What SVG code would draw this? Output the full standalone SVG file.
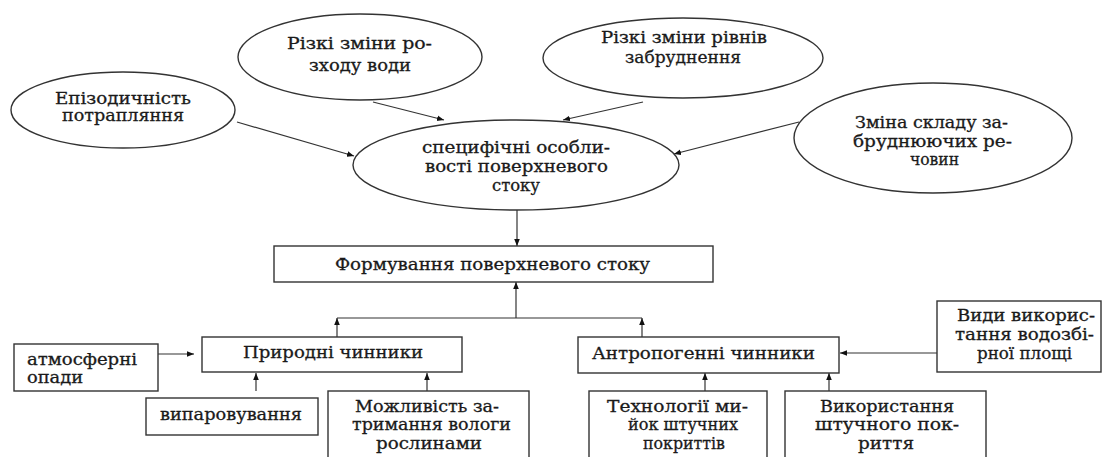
<svg xmlns="http://www.w3.org/2000/svg" width="1104" height="457" viewBox="0 0 1104 457">
<style>
.n{fill:#fff;stroke:#333;stroke-width:1.4}
text{font-family:'DejaVu Serif','Liberation Serif',serif;font-size:16px;fill:#1a1a1a;stroke:#1a1a1a;stroke-width:0.3}
.c{stroke:#333;stroke-width:1.2;fill:none;marker-end:url(#a)}
.l{stroke:#333;stroke-width:1.2;fill:none}
</style>
<defs>
<marker id="a" viewBox="0 0 10 10" refX="10" refY="5" markerWidth="7" markerHeight="7" markerUnits="userSpaceOnUse" orient="auto">
<path d="M0,1 L10,5 L0,9 z" fill="#111"/>
</marker>
</defs>
<rect width="1104" height="457" fill="#fff"/>
<g id="connectors">
<line class="c" x1="237" y1="122" x2="354" y2="156"/>
<line class="c" x1="373" y1="102" x2="444" y2="120"/>
<line class="c" x1="643" y1="102" x2="563" y2="120"/>
<line class="c" x1="799" y1="122" x2="674" y2="154"/>
<line class="c" x1="517" y1="210" x2="517" y2="246"/>
<line class="c" x1="516" y1="318" x2="516" y2="282"/>
<line class="l" x1="337" y1="318" x2="642" y2="318"/>
<line class="c" x1="337" y1="337" x2="337" y2="318"/>
<line class="c" x1="642" y1="337" x2="642" y2="318"/>
<line class="c" x1="158" y1="354" x2="194" y2="354"/>
<line class="c" x1="256" y1="391" x2="256" y2="373"/>
<line class="c" x1="427" y1="391" x2="427" y2="373"/>
<line class="c" x1="705" y1="391" x2="705" y2="373"/>
<line class="c" x1="829" y1="391" x2="829" y2="373"/>
<line class="c" x1="937" y1="353" x2="840" y2="353"/>
</g>
<g id="epizod">
<ellipse class="n" cx="123" cy="110" rx="112" ry="38"/>
<text x="55" y="104" textLength="136" lengthAdjust="spacingAndGlyphs">Епізодичність</text>
<text x="62" y="121" textLength="122" lengthAdjust="spacingAndGlyphs">потрапляння</text>
</g>
<g id="rozkhid">
<ellipse class="n" cx="360" cy="57" rx="122" ry="43"/>
<text x="287" y="49" textLength="145" lengthAdjust="spacingAndGlyphs">Різкі зміни ро-</text>
<text x="309" y="71" textLength="102" lengthAdjust="spacingAndGlyphs">зходу води</text>
</g>
<g id="rivni">
<ellipse class="n" cx="683" cy="58" rx="140" ry="40"/>
<text x="601" y="43" textLength="166" lengthAdjust="spacingAndGlyphs">Різкі зміни рівнів</text>
<text x="625" y="63" textLength="116" lengthAdjust="spacingAndGlyphs">забруднення</text>
</g>
<g id="sklad">
<ellipse class="n" cx="933" cy="138" rx="139" ry="55"/>
<text x="855" y="128" textLength="153" lengthAdjust="spacingAndGlyphs">Зміна складу за-</text>
<text x="853" y="147" textLength="159" lengthAdjust="spacingAndGlyphs">бруднюючих ре-</text>
<text x="910" y="165" textLength="49" lengthAdjust="spacingAndGlyphs">човин</text>
</g>
<g id="osoblyvosti">
<ellipse class="n" cx="516" cy="165" rx="163" ry="45"/>
<text x="422" y="153" textLength="188" lengthAdjust="spacingAndGlyphs">специфічні особли-</text>
<text x="425" y="172" textLength="183" lengthAdjust="spacingAndGlyphs">вості поверхневого</text>
<text x="492" y="191" textLength="48" lengthAdjust="spacingAndGlyphs">стоку</text>
</g>
<g id="formuvannia">
<rect class="n" x="274" y="246" width="439" height="36"/>
<text x="335" y="270" textLength="315" lengthAdjust="spacingAndGlyphs">Формування поверхневого стоку</text>
</g>
<g id="pryrodni">
<rect class="n" x="202" y="337" width="260" height="35"/>
<text x="243" y="358" textLength="180" lengthAdjust="spacingAndGlyphs">Природні чинники</text>
</g>
<g id="antropogenni">
<rect class="n" x="578" y="337" width="261" height="36"/>
<text x="592" y="359" textLength="223" lengthAdjust="spacingAndGlyphs">Антропогенні чинники</text>
</g>
<g id="atmosferni">
<rect class="n" x="14" y="344" width="144" height="47"/>
<text x="27" y="365" textLength="110" lengthAdjust="spacingAndGlyphs">атмосферні</text>
<text x="27" y="383" textLength="56" lengthAdjust="spacingAndGlyphs">опади</text>
</g>
<g id="vyparovuvannia">
<rect class="n" x="146" y="398" width="172" height="37"/>
<text x="160" y="420" textLength="142" lengthAdjust="spacingAndGlyphs">випаровування</text>
</g>
<g id="mozhlyvist">
<rect class="n" x="328" y="391" width="201" height="80"/>
<text x="355" y="412" textLength="144" lengthAdjust="spacingAndGlyphs">Можливість за-</text>
<text x="352" y="430" textLength="159" lengthAdjust="spacingAndGlyphs">тримання вологи</text>
<text x="376" y="449" textLength="106" lengthAdjust="spacingAndGlyphs">рослинами</text>
</g>
<g id="tekhnologii">
<rect class="n" x="589" y="391" width="178" height="80"/>
<text x="607" y="412" textLength="141" lengthAdjust="spacingAndGlyphs">Технології ми-</text>
<text x="628" y="430" textLength="110" lengthAdjust="spacingAndGlyphs">йок штучних</text>
<text x="643" y="449" textLength="82" lengthAdjust="spacingAndGlyphs">покриттів</text>
</g>
<g id="vykorystannia">
<rect class="n" x="785" y="391" width="201" height="80"/>
<text x="820" y="412" textLength="134" lengthAdjust="spacingAndGlyphs">Використання</text>
<text x="815" y="430" textLength="144" lengthAdjust="spacingAndGlyphs">штучного пок-</text>
<text x="858" y="449" textLength="56" lengthAdjust="spacingAndGlyphs">риття</text>
</g>
<g id="vydy">
<rect class="n" x="937" y="301" width="164" height="71"/>
<text x="957" y="321" textLength="138" lengthAdjust="spacingAndGlyphs">Види викорис-</text>
<text x="955" y="340" textLength="139" lengthAdjust="spacingAndGlyphs">тання водозбі-</text>
<text x="977" y="359" textLength="95" lengthAdjust="spacingAndGlyphs">рної площі</text>
</g>
</svg>
